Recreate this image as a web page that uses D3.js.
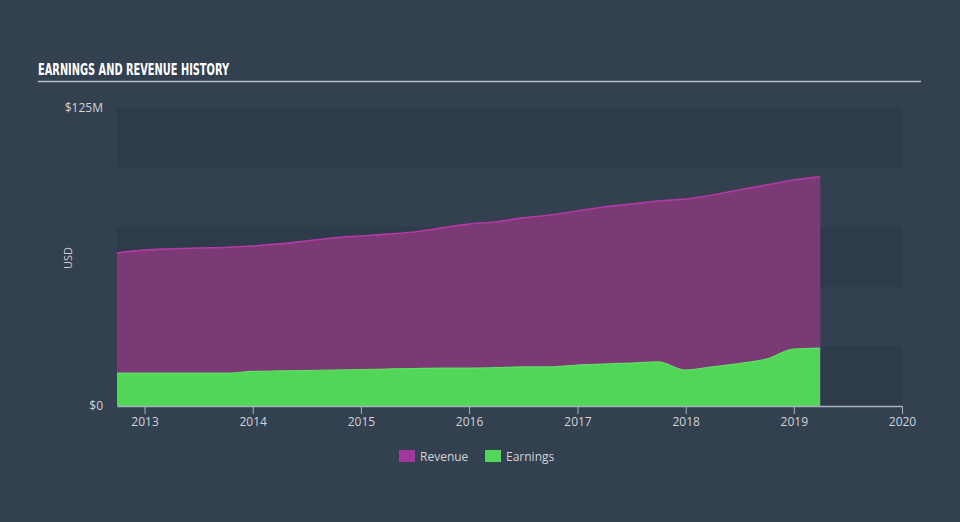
<!DOCTYPE html>
<html><head><meta charset="utf-8">
<script src="https://cdn.jsdelivr.net/npm/d3@7"></script>
<style>
html,body{margin:0;padding:0;background:#334050;}
svg{display:block;}
</style></head>
<body>
<svg id="chart" width="960" height="522"></svg>
<script>
const dates = ["2012-09-30","2012-12-31","2013-03-31","2013-06-30","2013-09-30","2013-12-31","2014-03-31","2014-06-30","2014-09-30","2014-12-31","2015-03-31","2015-06-30","2015-09-30","2015-12-31","2016-03-31","2016-06-30","2016-09-30","2016-12-31","2017-03-31","2017-06-30","2017-09-30","2017-12-31","2018-03-31","2018-06-30","2018-09-30","2018-12-31","2019-03-31"];
const revenue = [64.2,65.4,65.9,66.3,66.5,67.1,68.0,69.2,70.5,71.3,72.1,73.0,74.7,76.3,77.2,78.9,80.1,81.8,83.5,84.7,86.0,86.8,88.5,90.6,92.7,94.8,96.1];
const earnings = [13.8,13.8,13.8,13.8,13.8,14.5,14.7,14.9,15.1,15.3,15.5,15.7,15.9,15.9,16.1,16.4,16.4,17.2,17.6,18.0,18.5,15.1,16.4,17.8,19.7,23.9,24.3];
const xTickYears = [2013,2014,2015,2016,2017,2018,2019,2020];
const yTickLabels = ["$0","$125M"];
const yTickValues = [0,125];
const bandEdges = [0,25,50,75,100,125];

const svg = d3.select("#chart");
const parse = d3.timeParse("%Y-%m-%d");
const data = dates.map((d,i)=>({date:parse(d), rev:revenue[i], earn:earnings[i]}));

const x = d3.scaleTime().domain([parse("2012-09-30"), parse("2020-01-01")]).range([117,902]);
const y = d3.scaleLinear().domain([0,125]).range([406,108]);

// bands (dark ones)
for(let i=0;i<bandEdges.length-1;i++){
  if(i%2===0){
    svg.append("rect").attr("x",117).attr("width",902-117)
      .attr("y",y(bandEdges[i+1])).attr("height",y(bandEdges[i])-y(bandEdges[i+1]))
      .attr("fill","#2e3b4a");
  }
}

// title
svg.append("text").attr("x",38).attr("y",75).text("EARNINGS AND REVENUE HISTORY")
  .attr("fill","#ffffff").attr("font-family","'DejaVu Sans Condensed','Liberation Sans Narrow',sans-serif")
  .attr("font-weight","bold").attr("font-size",15.5).attr("textLength",191).attr("lengthAdjust","spacingAndGlyphs");
svg.append("line").attr("x1",38).attr("x2",921).attr("y1",81.5).attr("y2",81.5)
  .attr("stroke","#b8bec6").attr("stroke-width",1.5);

const curve = d3.curveMonotoneX;
const areaRev = d3.area().x(d=>x(d.date)).y0(y(0)).y1(d=>y(d.rev)).curve(curve);
const lineRev = d3.line().x(d=>x(d.date)).y(d=>y(d.rev)).curve(curve);
const areaEarn = d3.area().x(d=>x(d.date)).y0(y(0)).y1(d=>y(d.earn)).curve(curve);
const lineEarn = d3.line().x(d=>x(d.date)).y(d=>y(d.earn)).curve(curve);

svg.append("path").datum(data).attr("d",areaRev).attr("fill","#7b3a75");
svg.append("path").datum(data).attr("d",lineRev).attr("fill","none").attr("stroke","#b23aa3").attr("stroke-width",1.6);
svg.append("path").datum(data).attr("d",areaEarn).attr("fill","#52d658");
svg.append("path").datum(data).attr("d",lineEarn).attr("fill","none").attr("stroke","#5fe065").attr("stroke-width",1.2);

// y labels
svg.selectAll(".ylab").data(yTickValues).enter().append("text")
  .attr("x",103).attr("y",d=>y(d)+4).attr("text-anchor","end")
  .attr("fill","#d0d4d9").attr("font-family","'Open Sans',sans-serif").attr("font-size",12)
  .text((d,i)=>yTickLabels[i]);

svg.append("text").attr("transform","translate(72,258) rotate(-90)").attr("text-anchor","middle")
  .attr("fill","#c8cdd3").attr("font-family","'Open Sans',sans-serif").attr("font-size",11).text("USD");

// x axis
const xAxis = d3.axisBottom(x).tickValues(xTickYears.map(yr=>new Date(yr,0,1)))
  .tickFormat(d3.timeFormat("%Y")).tickSize(8).tickSizeOuter(0);
const gx = svg.append("g").attr("transform","translate(0,406)").call(xAxis);
gx.select(".domain").attr("stroke","#a9b3bf").attr("stroke-width",1.5);
gx.selectAll(".tick line").attr("stroke","#a9b3bf");
gx.selectAll(".tick text").attr("fill","#d0d4d9").attr("font-family","'Open Sans',sans-serif").attr("font-size",12).attr("dy","0.75em");

// legend
const legend = [{name:"Revenue",color:"#a1379a",x:399},{name:"Earnings",color:"#52d658",x:485}];
legend.forEach(l=>{
  svg.append("rect").attr("x",l.x).attr("y",450).attr("width",16).attr("height",12).attr("fill",l.color);
  svg.append("text").attr("x",l.x+21).attr("y",460.5).text(l.name)
    .attr("fill","#d0d4d9").attr("font-family","'Open Sans',sans-serif").attr("font-size",12);
});
</script>
</body></html>
